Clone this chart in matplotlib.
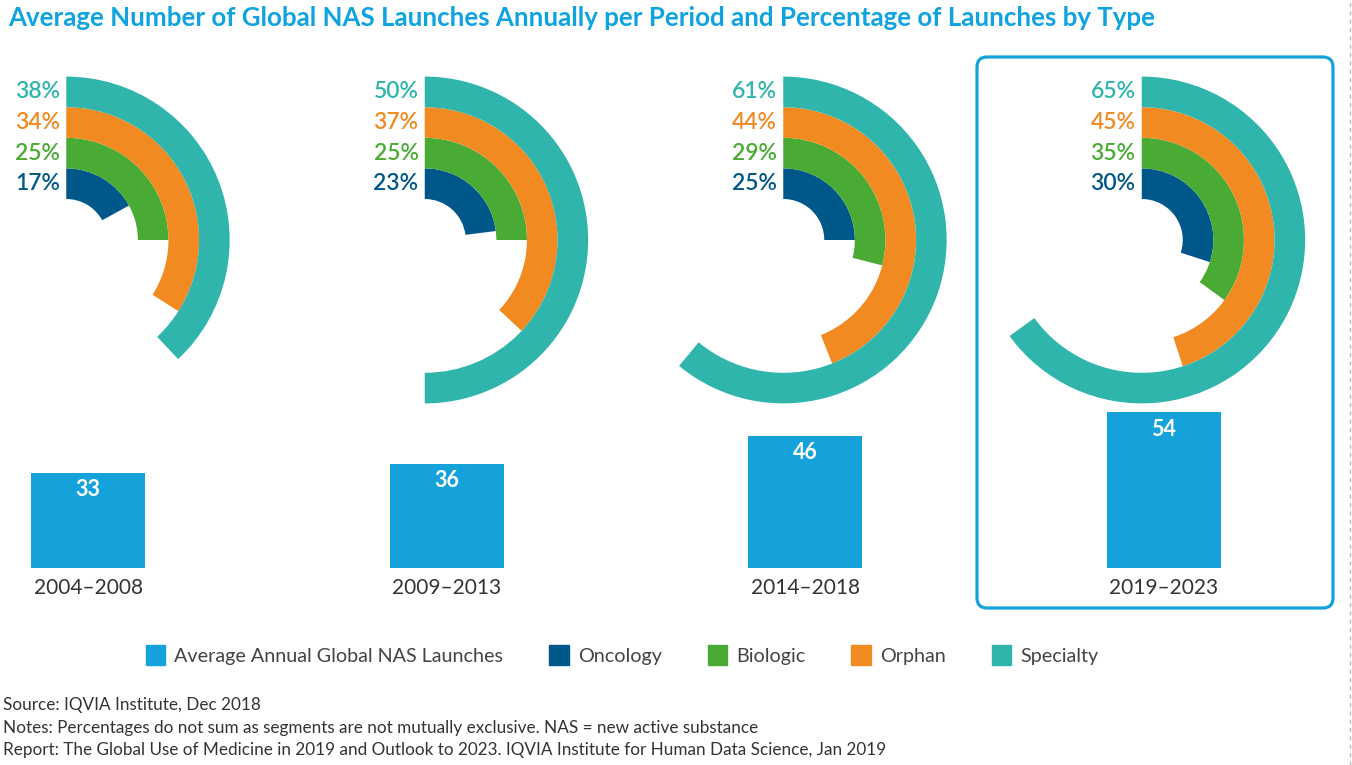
import numpy as np
import matplotlib
matplotlib.use("Agg")
from matplotlib import pyplot as plt
from matplotlib.patches import Patch, FancyBboxPatch
from matplotlib.lines import Line2D

# --- data ---
periods = ["2004–2008", "2009–2013", "2014–2018", "2019–2023"]
launches = [33, 36, 46, 54]
oncology = [17, 23, 25, 30]
biologic = [25, 25, 29, 35]
orphan = [34, 37, 44, 45]
specialty = [38, 50, 61, 65]

BAR = "#15a2db"
C_ONC = "#00578a"
C_BIO = "#4aab34"
C_ORP = "#f08a21"
C_SPE = "#2fb5ac"
TXT = "#333333"

plt.rcParams["font.family"] = ["Lato", "DejaVu Sans"]

W, H = 1352, 765
fig = plt.figure(figsize=(W / 100, H / 100), dpi=100)

# --- bars ---
px_per_unit = 2.88
bar_h_px = 220
ax = fig.add_axes([0, 197 / H, 1, bar_h_px / H])
ax.bar(range(len(launches)), launches, width=0.318, color=BAR, linewidth=0)
ax.set_xlim(-0.2462, 3.5251)
ax.set_ylim(0, bar_h_px / px_per_unit)
ax.axis("off")

for i, v in enumerate(launches):
    ax.annotate(str(v), (i, v), xytext=(0, -12), textcoords="offset points",
                ha="center", va="center", color="white", fontsize=15.5, fontweight="bold")
    ax.annotate(periods[i], (i, 0), xytext=(0, -14.4), textcoords="offset points",
                ha="center", va="center", color=TXT, fontsize=15)

# --- radial arcs ---
series = [(oncology, C_ONC), (biologic, C_BIO), (orphan, C_ORP), (specialty, C_SPE)]
R = 170
R0 = 41
RING_W = 30.6
cy = H - 240
for i in range(len(periods)):
    cx = ax.transData.transform((i, 0))[0] - 22
    pax = fig.add_axes([(cx - R) / W, (cy - R) / H, 2 * R / W, 2 * R / H], projection="polar")
    pax.set_theta_zero_location("N")
    pax.set_theta_direction(-1)
    pax.set_ylim(0, R)
    pax.axis("off")
    for k, (vals, col) in enumerate(series):
        pct = vals[i]
        pax.bar(0, RING_W, width=2 * np.pi * pct / 100, bottom=R0 + k * RING_W,
                color=col, align="edge", linewidth=0)
        pax.annotate(f"{pct}%", (0, R0 + (k + 0.5) * RING_W), xytext=(-4.5, 0),
                     textcoords="offset points", ha="right", va="center",
                     color=col, fontsize=16.5, fontweight="semibold")

# --- highlight box around last period ---
box = FancyBboxPatch((9.77, (H - 608) / 100), 3.56, 5.51,
                     boxstyle="round,pad=0,rounding_size=0.1",
                     transform=fig.dpi_scale_trans, fill=False, ec=BAR, lw=2.3)
fig.add_artist(box)

# --- legend ---
handles = [Patch(color=BAR), Patch(color=C_ONC), Patch(color=C_BIO),
           Patch(color=C_ORP), Patch(color=C_SPE)]
labels = ["Average Annual Global NAS Launches", "Oncology", "Biologic", "Orphan", "Specialty"]
fig.legend(handles, labels, loc="center", bbox_to_anchor=(622 / W, 1 - 655 / H),
           ncol=5, frameon=False, fontsize=14.2, handlelength=1.0, handleheight=1.25,
           handletextpad=0.45, columnspacing=2.33, labelcolor="#444444")

# --- title & notes ---
fig.text(8 / W, 1 - 18 / H,
         "Average Number of Global NAS Launches Annually per Period and Percentage of Launches by Type",
         fontsize=18.6, fontweight="bold", color="#0fa3e0", va="center")
notes = ["Source: IQVIA Institute, Dec 2018",
         "Notes: Percentages do not sum as segments are not mutually exclusive. NAS = new active substance",
         "Report: The Global Use of Medicine in 2019 and Outlook to 2023. IQVIA Institute for Human Data Science, Jan 2019"]
for j, line in enumerate(notes):
    fig.text(3 / W, 1 - (705 + 22.5 * j) / H, line, fontsize=12.3, color=TXT, va="center")

fig.add_artist(Line2D([1350 / W, 1350 / W], [0, 1], transform=fig.transFigure,
                      color="#bbbbbb", lw=1, ls=(0, (3, 3))))

fig.savefig("out.png", dpi=100)
plt.close(fig)
